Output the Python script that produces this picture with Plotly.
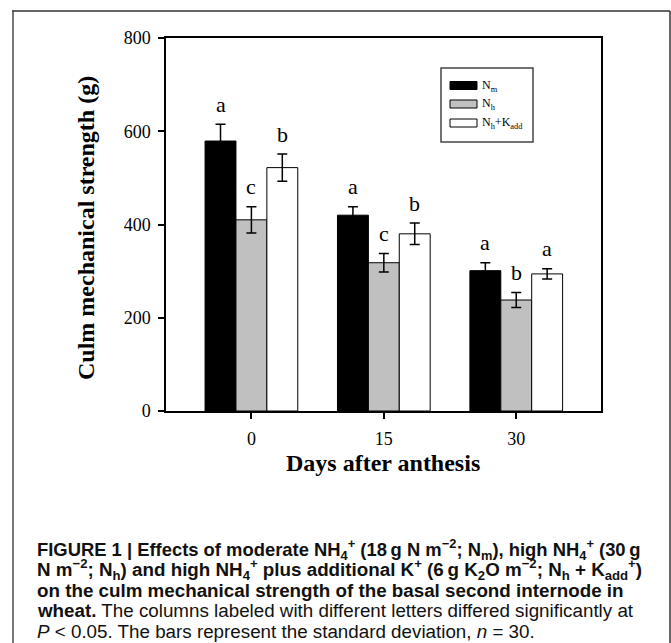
import plotly.graph_objects as go

# ---- data ----
days = ["0", "15", "30"]
series_names = ["N<sub>m</sub>", "N<sub>h</sub>", "N<sub>h</sub>+K<sub>add</sub>"]
nm_vals = [579, 420, 301]
nh_vals = [410, 318, 238]
nhk_vals = [522, 380, 294]
nm_err = [36, 18, 17]
nh_err = [28, 20, 16]
nhk_err = [29, 23, 11]
nm_letters = ["a", "a", "a"]
nh_letters = ["c", "c", "b"]
nhk_letters = ["b", "b", "a"]
y_ticks = [0, 200, 400, 600, 800]

W, H = 671, 643
L, R, T, B = 166, 70, 38, 232
PW, PH = W - L - R, H - T - B


def px(x):
    return (x - L) / PW


def py(y):
    return (H - B - y) / PH


SERIF = "Liberation Serif, Times New Roman, serif"
SANS = "Liberation Sans Narrow, Arial Narrow, Liberation Sans, Arial, sans-serif"

colors = ["#000000", "#c0c0c0", "#ffffff"]
vals = [nm_vals, nh_vals, nhk_vals]
errs = [nm_err, nh_err, nhk_err]
letters = [nm_letters, nh_letters, nhk_letters]

fig = go.Figure()
for name, v, e, c in zip(series_names, vals, errs, colors):
    fig.add_trace(go.Bar(
        x=days, y=v, name=name,
        marker=dict(color=c, line=dict(color="black", width=1)),
        error_y=dict(type="data", array=e, color="black", thickness=1.5, width=5),
        showlegend=False,
    ))

bargap = 0.3
bw = (1 - bargap) / 3
annotations = []
for j in range(3):
    for i in range(3):
        annotations.append(dict(
            x=i + (j - 1) * bw, y=vals[j][i] + errs[j][i], xref="x", yref="y",
            text=letters[j][i], showarrow=False, xanchor="center",
            yanchor="middle", yshift=20,
            font=dict(family=SERIF, size=22, color="black"),
        ))

# axis titles
annotations.append(dict(
    x=px(86), y=py(228), xref="paper", yref="paper",
    xanchor="center", yanchor="middle",
    text="<b>Culm mechanical strength (g)</b>", textangle=-90, showarrow=False,
    font=dict(family=SERIF, size=24, color="black"),
))
annotations.append(dict(
    x=px(383), y=py(463), xref="paper", yref="paper",
    xanchor="center", yanchor="middle",
    text="<b>Days after anthesis</b>", showarrow=False,
    font=dict(family=SERIF, size=24, color="black"),
))

# custom legend
shapes = []
shapes.append(dict(type="rect", xref="paper", yref="paper",
                   x0=px(441), x1=px(533), y0=py(68), y1=py(142),
                   line=dict(color="#444444", width=1.5), fillcolor="white"))
leg_rows = [85.5, 104, 123]
for name, c, yc in zip(series_names, colors, leg_rows):
    shapes.append(dict(type="rect", xref="paper", yref="paper",
                       x0=px(450), x1=px(477), y0=py(yc - 4), y1=py(yc + 4),
                       line=dict(color="black", width=1), fillcolor=c))
    annotations.append(dict(
        x=px(480), y=py(yc), xref="paper", yref="paper", xanchor="left",
        yanchor="middle", text=name, showarrow=False,
        font=dict(family=SERIF, size=12, color="black"),
    ))

# outer frame
shapes.append(dict(type="line", xref="paper", yref="paper",
                   x0=px(13), x1=px(13), y0=py(11), y1=py(650),
                   line=dict(color="#777777", width=2)))
shapes.append(dict(type="line", xref="paper", yref="paper",
                   x0=px(12), x1=px(670), y0=py(11), y1=py(11),
                   line=dict(color="#333333", width=1.5)))
shapes.append(dict(type="line", xref="paper", yref="paper",
                   x0=px(670), x1=px(670), y0=py(11), y1=py(650),
                   line=dict(color="#333333", width=1.5)))

# caption
TS = "\u2009"
caption_lines = [
    "<b>FIGURE 1 | Effects of moderate NH<sub>4</sub><sup>+</sup> (18" + TS + "g N m<sup>\u22122</sup>; N<sub>m</sub>), high NH<sub>4</sub><sup>+</sup> (30" + TS + "g</b>",
    "<b>N m<sup>\u22122</sup>; N<sub>h</sub>) and high NH<sub>4</sub><sup>+</sup> plus additional K<sup>+</sup> (6" + TS + "g K<sub>2</sub>O m<sup>\u22122</sup>; N<sub>h</sub> + K<sub>add</sub><sup>+</sup>)</b>",
    "<b>on the culm mechanical strength of the basal second internode in</b>",
    "<b>wheat.</b> The columns labeled with different letters differed significantly at",
    "<i>P</i> &lt; 0.05. The bars represent the standard deviation, <i>n</i> = 30.",
]
cap_y = [549, 569.5, 590, 610.5, 631]
cap_size = [18.4, 18.8, 18.8, 18.8, 18.8]
for t, yc, fs in zip(caption_lines, cap_y, cap_size):
    annotations.append(dict(
        x=px(35), y=py(yc), xref="paper", yref="paper", xanchor="left",
        yanchor="middle", text=t, showarrow=False,
        font=dict(family=SANS, size=fs, color="#111111"),
    ))

fig.update_layout(
    width=W, height=H,
    margin=dict(l=L, r=R, t=T, b=B, autoexpand=False),
    paper_bgcolor="white", plot_bgcolor="white",
    barmode="group", bargap=bargap, bargroupgap=0,
    annotations=annotations, shapes=shapes,
    showlegend=False,
)
fig.update_xaxes(
    type="category", range=[-0.645, 2.64],
    showline=True, linecolor="black", linewidth=1.5, mirror=True,
    ticks="outside", ticklen=6, tickwidth=1.5, tickcolor="black",
    tickfont=dict(family=SERIF, size=18, color="black"),
    ticklabelstandoff=5,
    showgrid=False, zeroline=False,
)
fig.update_yaxes(
    range=[0, 800], tickvals=y_ticks,
    showline=True, linecolor="black", linewidth=1.5, mirror=True,
    ticks="outside", ticklen=6, tickwidth=1.5, tickcolor="black",
    tickfont=dict(family=SERIF, size=18, color="black"),
    ticklabelstandoff=4,
    showgrid=False, zeroline=False,
)

fig.write_html("out.html")
